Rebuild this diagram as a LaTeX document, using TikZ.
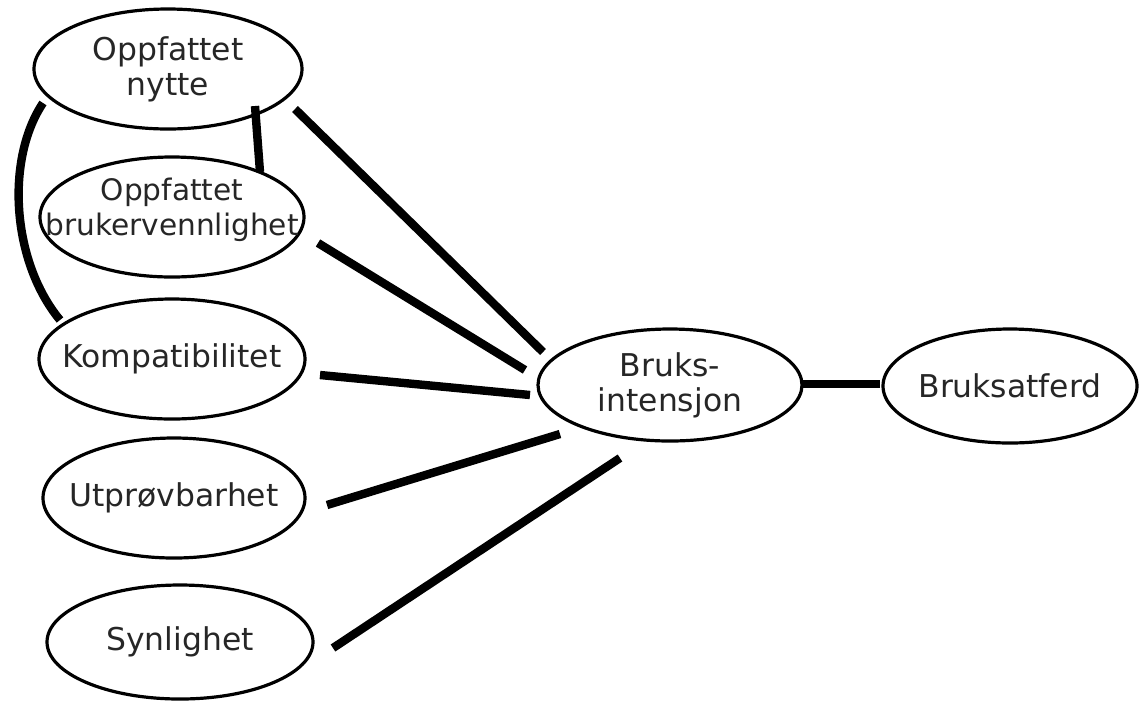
\documentclass[tikz,border=0pt]{standalone}
\usepackage{fontspec}
\setmainfont{DejaVu Sans}
\usetikzlibrary{shapes.geometric,calc}
\begin{document}
\begin{tikzpicture}[x=0.5pt,y=-0.5pt,
  factor/.style={ellipse,draw=black,line width=1.6pt,inner sep=0pt,
    minimum width=133pt,minimum height=60pt},
  factor text/.style={align=center,inner sep=0pt,
    font=\fontsize{15.7}{17.5}\selectfont,text=black!85},
  link/.style={line width=4.2pt,black}]
\useasboundingbox (0,0) rectangle (1144,708);

% constructs (ellipse outlines with their captions set on top)
\node[factor,minimum width=134pt] (nytte) at (168,69) {};
\node[factor text] (nytte-t) at (nytte) {Oppfattet\\nytte};
\node[factor,minimum width=132pt] (bv) at (172,217) {};
\node[factor text,font=\fontsize{14.8}{17.5}\selectfont] (bv-t) at ($(bv)+(0,-7)$) {Oppfattet\\brukervennlighet};
\node[factor] (komp) at (172,359) {};
\node[factor text] (komp-t) at (komp) {Kompatibilitet};
\node[factor,minimum width=131pt] (utp) at (174,498) {};
\node[factor text] (utp-t) at (utp) {Utprøvbarhet};
\node[factor,minimum height=57pt] (syn) at (180,642) {};
\node[factor text] (syn-t) at (syn) {Synlighet};
\node[factor,minimum width=132pt,minimum height=56pt] (bi) at (670,385) {};
\node[factor text] (bi-t) at (bi) {Bruks-\\intensjon};
\node[factor,minimum width=127pt,minimum height=57pt] (ba) at (1010,386) {};
\node[factor text] (ba-t) at (ba) {Bruksatferd};

% links into the intention
\draw[link] ($(nytte)+(127,40)$) -- ($(bi)+(-127,-33)$);
\draw[link] ($(bv)+(146,26)$) -- ($(bi)+(-145,-15)$);
\draw[link] ($(komp)+(148,16)$) -- ($(bi)+(-140,10)$);
\draw[link] ($(utp)+(153,7)$) -- ($(bi)+(-110,49)$);
\draw[link] ($(syn)+(153,6)$) -- ($(bi)+(-50,73)$);
\draw[link] ($(bi)+(132,-1)$) -- ($(ba)+(-130,-2)$);

% links among the constructs
\draw[link] ($(nytte)+(87,37)$) -- ($(bv)+(88,-45)$);
\draw[link] ($(nytte)+(-125,34)$) .. controls (5,160) and (12,262) .. ($(komp)+(-112,-39)$);
\end{tikzpicture}
\end{document}
